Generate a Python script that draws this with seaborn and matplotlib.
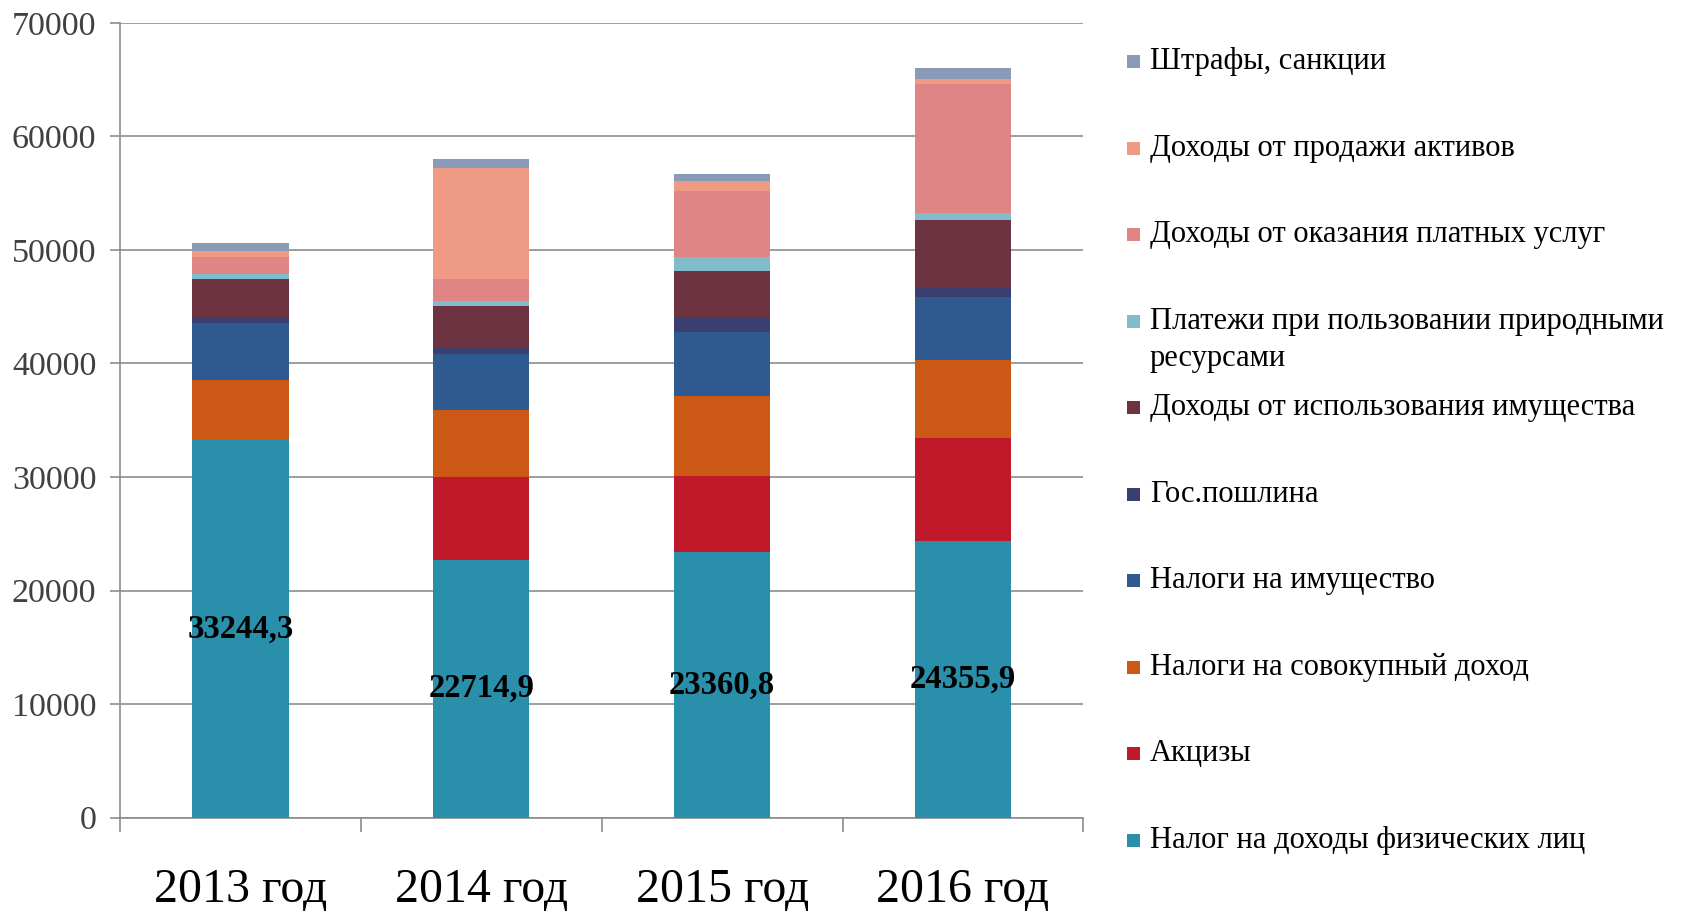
import numpy as np
import matplotlib
matplotlib.use("Agg")
import matplotlib.pyplot as plt
from matplotlib.patches import Rectangle
from matplotlib.ticker import FixedLocator
import seaborn as sns
import pandas as pd

years = ["2013 год", "2014 год", "2015 год", "2016 год"]

# series, bottom to top
ndfl = [33244.3, 22714.9, 23360.8, 24355.9]
akcizy = [0, 7250, 6740, 9060]
sovokupny = [5300, 5900, 7000, 6890]
imushestvo_nalog = [5000, 5000, 5650, 5530]
gosposhlina = [450, 550, 1350, 880]
imushestvo_dohod = [3400, 3650, 4050, 5950]
prirodnye = [500, 450, 1250, 620]
platnye_uslugi = [1450, 1900, 5800, 11300]
prodazha_aktivov = [600, 9800, 850, 440]
shtrafy = [700, 800, 650, 970]

series_names = [
    "Налог на доходы физических лиц",
    "Акцизы",
    "Налоги на совокупный доход",
    "Налоги на имущество",
    "Гос.пошлина",
    "Доходы от использования имущества",
    "Платежи при пользовании природными\nресурсами",
    "Доходы от оказания платных услуг",
    "Доходы от продажи активов",
    "Штрафы, санкции",
]
series_values = [ndfl, akcizy, sovokupny, imushestvo_nalog, gosposhlina,
                 imushestvo_dohod, prirodnye, platnye_uslugi,
                 prodazha_aktivov, shtrafy]
colors = ["#2A8FAA", "#C0192A", "#CC5816", "#2F5A8F", "#3B3F6F",
          "#6E3340", "#80BCCC", "#E08586", "#EE9A84", "#8A9AB9"]

sns.set_style("white")
plt.rcParams["font.family"] = ["Liberation Serif", "DejaVu Serif"]

df = pd.DataFrame({name: vals for name, vals in zip(series_names, series_values)})
df["year"] = years
cum = df[series_names].cumsum(axis=1)

fig = plt.figure(figsize=(16.96, 9.11), dpi=100)
ax = fig.add_axes([0.0708, 0.1024, 0.568, 0.8726])

# stacked bars: draw cumulative totals from the top layer down
for name, col in reversed(list(zip(series_names, colors))):
    sns.barplot(x=df["year"], y=cum[name], color=col, saturation=1,
                width=0.4, errorbar=None, ax=ax, zorder=3,
                edgecolor="none")

# data labels for the first series
for i, v in enumerate(ndfl):
    ax.text(i, v / 2, f"{v:.1f}".replace(".", ","), ha="center", va="center",
            fontsize=23.5, fontweight="bold", color="black", zorder=5)

ax.set_ylim(0, 70000)
ax.set_xlim(-0.5, 3.5)
ax.set_yticks(np.arange(0, 70001, 10000))
ax.yaxis.grid(True, color="#8C8C8C", linewidth=1.2, zorder=0)
ax.set_axisbelow(True)
ax.set_xlabel("")
ax.set_ylabel("")

for s in ["top", "right"]:
    ax.spines[s].set_visible(False)
for s in ["left", "bottom"]:
    ax.spines[s].set_color("#8C8C8C")
    ax.spines[s].set_linewidth(1.2)

ax.tick_params(axis="y", left=True, direction="out", length=7, width=1.2,
               color="#8C8C8C", labelsize=24.5, labelcolor="#404040", pad=10)
ax.tick_params(axis="x", which="major", bottom=True, length=0, labelsize=34.5,
               labelcolor="black", pad=36)
ax.xaxis.set_minor_locator(FixedLocator([-0.5, 0.5, 1.5, 2.5, 3.5]))
ax.tick_params(axis="x", which="minor", bottom=True, direction="out", length=10,
               width=1.2, color="#8C8C8C")

# legend drawn by hand (top entry first)
leg_x_box = 1127 / 1696
leg_x_txt = 1150 / 1696
box = 13
y_px = 61.7
for name, col in reversed(list(zip(series_names, colors))):
    yf = 1 - y_px / 911
    fig.patches.append(Rectangle((leg_x_box, yf - box / 2 / 911), box / 1696, box / 911,
                                 transform=fig.transFigure, facecolor=col,
                                 edgecolor="none"))
    if "\n" in name:
        first, second = name.split("\n")
        fig.text(leg_x_txt, yf, first, ha="left", va="center", fontsize=22,
                 color="black", transform=fig.transFigure)
        fig.text(leg_x_txt, yf - 37 / 911, second, ha="left", va="center",
                 fontsize=22, color="black", transform=fig.transFigure)
    else:
        fig.text(leg_x_txt, yf, name, ha="left", va="center", fontsize=22,
                 color="black", transform=fig.transFigure)
    y_px += 86.5

fig.savefig("out.png", dpi=100)
